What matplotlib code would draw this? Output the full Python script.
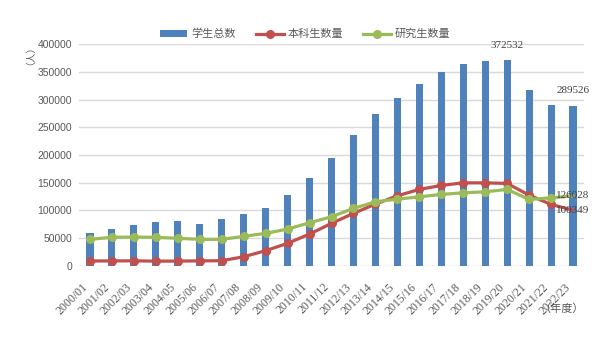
import matplotlib
matplotlib.use("Agg")
import matplotlib.pyplot as plt
from matplotlib.lines import Line2D
from matplotlib.patches import Patch
import numpy as np

plt.rcParams['font.family'] = ['Noto Sans CJK SC', 'DejaVu Sans']

years = ["2000/01", "2001/02", "2002/03", "2003/04", "2004/05", "2005/06", "2006/07",
         "2007/08", "2008/09", "2009/10", "2010/11", "2011/12", "2012/13", "2013/14",
         "2014/15", "2015/16", "2016/17", "2017/18", "2018/19", "2019/20", "2020/21",
         "2021/22", "2022/23"]
total = [58500, 66200, 74000, 78300, 80100, 75800, 83700, 93900, 103600, 127000,
         157800, 193900, 235900, 275100, 304000, 329200, 350900, 364000, 370000,
         372532, 317100, 290500, 289526]
undergrad = [8500, 8600, 8800, 8200, 8300, 8700, 9000, 16200, 27100, 40400, 57200,
             76500, 94600, 111400, 126400, 137900, 145100, 149800, 149800, 148700,
             127600, 110800, 100349]
postgrad = [47600, 51300, 51800, 51300, 49500, 47600, 47600, 53000, 58500, 66200,
            77600, 88500, 103600, 115500, 120400, 124500, 128900, 131800, 133600,
            137900, 119800, 122700, 126028]
series_names = ["学生总数", "本科生数量", "研究生数量"]

c_bar = "#4F81BD"
c_red = "#C0504D"
c_green = "#9BBB59"
gray = "#595959"

fig = plt.figure(figsize=(6, 3.5), dpi=100)
ax = fig.add_axes([0.1317, 0.2409, 0.9733 - 0.1317, 0.8729 - 0.2409])

x = np.arange(len(years))
ax.bar(x, total, width=0.32, color=c_bar, zorder=2)
mk = list(range(len(years) - 1))
ax.plot(x, undergrad, color=c_red, lw=2.3, marker='o', ms=5.5, markevery=mk, zorder=3)
ax.plot(x, postgrad, color=c_green, lw=2.3, marker='o', ms=5.5, markevery=mk, zorder=4)

ax.set_xlim(-0.5, len(years) - 0.5)
ax.set_ylim(0, 400000)
ax.set_yticks(np.arange(0, 400001, 50000))
ax.yaxis.grid(True, color="#D9D9D9", lw=1, zorder=0)
ax.set_axisbelow(True)
for s in ax.spines.values():
    s.set_visible(False)
ax.tick_params(axis='both', length=0)
ax.tick_params(axis='y', pad=5, labelsize=7.5, labelcolor=gray)
ax.set_yticklabels([str(v) for v in range(0, 400001, 50000)], family=['Liberation Sans'])
ax.set_xticks(x)
ax.set_xticklabels(years, rotation=45, ha='right', va='top', fontsize=8.5,
                   color=gray, family=['Liberation Serif'])
ax.tick_params(axis='x', pad=11)

# data labels
for i in (19, 22):
    ax.annotate(str(total[i]), (x[i], total[i]), xytext=(0, 10.5), textcoords='offset points',
                ha='center', va='center', fontsize=8, color="#404040", family=['Liberation Serif'])
last = len(years) - 1
ax.annotate(str(postgrad[last]), (x[last], postgrad[last]), ha='center', va='center',
            fontsize=8, color="#404040", family=['Liberation Serif'], zorder=6)
ax.annotate(str(undergrad[last]), (x[last], undergrad[last]), ha='center', va='center',
            fontsize=8, color="#404040", family=['Liberation Serif'], zorder=6)

fig.text(25 / 600, 1 - 50 / 350, "（人）", rotation=90, ha='center', va='center',
         fontsize=7, color=gray)
fig.text(562 / 600, 1 - 309 / 350, "（年度）", ha='center', va='center',
         fontsize=8, color=gray)

handles = [Patch(facecolor=c_bar, edgecolor='none'),
           Line2D([], [], color=c_red, lw=2.3, marker='o', ms=5.5),
           Line2D([], [], color=c_green, lw=2.3, marker='o', ms=5.5)]
leg = fig.legend(handles, series_names, loc='center', bbox_to_anchor=(305 / 600, 1 - 34 / 350),
                 ncol=3, frameon=False, fontsize=8, handlelength=2.5, handleheight=0.5,
                 handletextpad=0.35, columnspacing=1.8, labelcolor=gray)

fig.savefig("out.png", dpi=100, facecolor='white')
